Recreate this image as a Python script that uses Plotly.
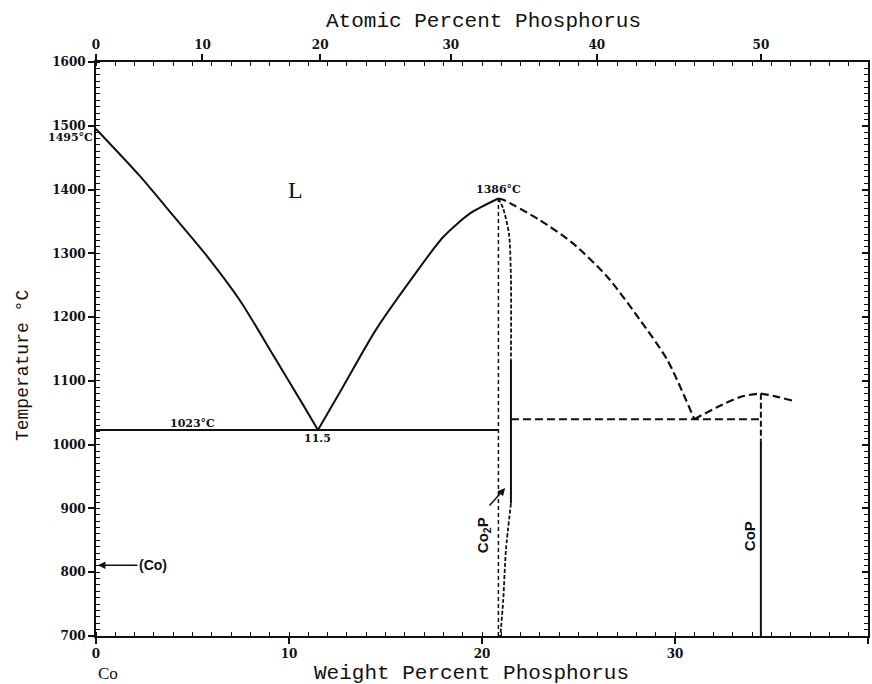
import plotly.graph_objects as go

# ---------------- data ----------------
liq_co_wt = [0, 2.28, 4.0, 5.74, 7.46, 9.19, 10.74, 11.5]
liq_co_T = [1495, 1421, 1359, 1296, 1226, 1140, 1062, 1023]

liq_co2p_wt = [11.5, 12.8, 14.5, 16.3, 18.0, 19.4, 20.85]
liq_co2p_T = [1023, 1091, 1180, 1258, 1326, 1363, 1386]

liq_right_wt = [20.85, 21.1, 23.0, 24.7, 26.5, 28.2, 29.6, 31.0]
liq_right_T = [1386, 1384, 1352, 1316, 1263, 1195, 1133, 1040]

liq_cop_wt = [31.0, 32.2, 33.4, 34.4, 35.3, 36.1]
liq_cop_T = [1040, 1059, 1075, 1080, 1075, 1069]

co2p_left_wt = [20.85, 20.85]
co2p_left_T = [700, 1386]

co2p_right_up_wt = [20.85, 21.1, 21.4, 21.5, 21.5]
co2p_right_up_T = [1386, 1370, 1330, 1260, 1133]
co2p_right_mid_wt = [21.5, 21.5]
co2p_right_mid_T = [1133, 908]
co2p_right_low_wt = [21.5, 21.24, 21.1, 20.95]
co2p_right_low_T = [908, 835, 756, 700]

eut1_wt = [0, 20.85]
eut1_T = [1023, 1023]
eut2_wt = [21.5, 34.45]
eut2_T = [1040, 1040]

cop_dash_wt = [34.45, 34.45]
cop_dash_T = [1080, 1007]
cop_solid_wt = [34.45, 34.45]
cop_solid_T = [1007, 700]

co_allotrope_T = 811

at_pct_ticks = [0, 10, 20, 30, 40, 50]
wt_ticks = [0, 10, 20, 30, 40]
T_ticks = [700, 800, 900, 1000, 1100, 1200, 1300, 1400, 1500, 1600]

M_P, M_CO = 30.974, 58.933
at_pos = [a * M_P / (a * M_P + (100 - a) * M_CO) * 100 for a in at_pct_ticks]

BLACK = "#111111"
TICKFONT = dict(family="DejaVu Serif", size=12, color=BLACK, weight="bold")
TITLEFONT = dict(family="Liberation Mono", size=21, color=BLACK)

fig = go.Figure()


def add(x, y, dash="solid", width=2.0, shape="linear"):
    fig.add_trace(go.Scatter(x=x, y=y, mode="lines", showlegend=False,
                             hoverinfo="skip",
                             line=dict(color=BLACK, width=width, dash=dash,
                                       shape=shape, smoothing=0.7)))


add(liq_co_wt, liq_co_T, shape="spline")
add(liq_co2p_wt, liq_co2p_T, shape="spline")
add(liq_right_wt, liq_right_T, dash="8px,4px", width=2.2, shape="spline")
add(liq_cop_wt, liq_cop_T, dash="8px,4px", width=2.2, shape="spline")
add(co2p_left_wt, co2p_left_T, dash="4px,3px", width=1.5)
add(co2p_right_up_wt, co2p_right_up_T, dash="4px,2px", width=1.8, shape="spline")
add(co2p_right_mid_wt, co2p_right_mid_T, width=2.0)
add(co2p_right_low_wt, co2p_right_low_T, dash="4px,2px", width=1.8, shape="spline")
add(eut1_wt, eut1_T, width=2.0)
add(eut2_wt, eut2_T, dash="8px,4px", width=2.0)
add(cop_dash_wt, cop_dash_T, dash="6px,3px", width=2.0)
add(cop_solid_wt, cop_solid_T, width=2.0)

# invisible traces for the top and right axes
fig.add_trace(go.Scatter(x=[0, 40], y=[700, 700], xaxis="x2", mode="lines",
                         line=dict(width=0), showlegend=False, hoverinfo="skip"))
fig.add_trace(go.Scatter(x=[0, 40], y=[700, 700], yaxis="y2", mode="lines",
                         line=dict(width=0), showlegend=False, hoverinfo="skip"))

small = dict(family="DejaVu Serif", size=11, color=BLACK, weight="bold")
ann = [
    dict(x=0, y=1481, text="1495°C", showarrow=False, xanchor="right",
         xshift=-1, font=small),
    dict(x=20.85, y=1386, text="1386°C", showarrow=False, yanchor="bottom",
         yshift=0, font=small),
    dict(x=5.0, y=1023, text="1023°C", showarrow=False, yanchor="bottom",
         yshift=-2, font=small),
    dict(x=11.5, y=1023, text="11.5", showarrow=False, yanchor="top",
         yshift=0, font=small),
    dict(x=10.36, y=1400, text="L", showarrow=False,
         font=dict(family="Liberation Serif", size=24, color=BLACK)),
    dict(x=0.1, y=co_allotrope_T, text="(Co)", showarrow=True, arrowhead=2,
         arrowsize=1, arrowwidth=1.5, arrowcolor=BLACK, ax=55, ay=0,
         font=dict(family="Liberation Sans", size=14, color=BLACK, weight="bold")),
    dict(x=21.2, y=932, text="", showarrow=True, arrowhead=2, arrowsize=1,
         arrowwidth=1.5, arrowcolor=BLACK, ax=-17, ay=19),
    dict(x=20.05, y=858, text="Co<sub>2</sub>P", showarrow=False, textangle=-90,
         font=dict(family="Liberation Sans", size=15, color=BLACK, weight="bold")),
    dict(x=33.9, y=857, text="CoP", showarrow=False, textangle=-90,
         font=dict(family="Liberation Sans", size=15, color=BLACK, weight="bold")),
    # axis titles and the Co end label, placed in paper coordinates
    dict(xref="paper", yref="paper", x=0.502, y=1.0714, xanchor="center",
         yanchor="middle", text="Atomic Percent Phosphorus",
         showarrow=False, font=TITLEFONT),
    dict(xref="paper", yref="paper", x=0.487, y=-0.066, xanchor="center",
         yanchor="middle", text="Weight Percent Phosphorus",
         showarrow=False, font=TITLEFONT),
    dict(xref="paper", yref="paper", x=-0.0946, y=0.472, xanchor="center",
         yanchor="middle", text="Temperature °C",
         showarrow=False, textangle=-90,
         font=dict(family="Liberation Mono", size=18, color=BLACK)),
    dict(xref="paper", yref="paper", x=0.0155, y=-0.066, xanchor="center",
         yanchor="middle", text="Co",
         showarrow=False, font=dict(family="Liberation Serif", size=17, color=BLACK)),
]

common_axis = dict(showline=True, linewidth=2, linecolor=BLACK, showgrid=False,
                   zeroline=False, automargin=False, tickcolor=BLACK,
                   tickwidth=1.5, ticklen=6)

fig.update_layout(
    width=872, height=684,
    margin=dict(l=96, r=4, t=62, b=48),
    paper_bgcolor="white", plot_bgcolor="white",
    annotations=ann,
    xaxis=dict(range=[0, 40], tickmode="array", tickvals=wt_ticks,
               ticks="outside", tickfont=TICKFONT,
               minor=dict(tickmode="linear", tick0=0, dtick=1, ticks="inside",
                          ticklen=4, tickwidth=1.2, tickcolor=BLACK, showgrid=False),
               **common_axis),
    xaxis2=dict(range=[0, 40], overlaying="x", side="top", tickmode="array",
                tickvals=at_pos, ticktext=[str(a) for a in at_pct_ticks],
                ticks="outside", tickfont=TICKFONT,
                minor=dict(tickmode="linear", tick0=0, dtick=1, ticks="inside",
                           ticklen=4, tickwidth=1.2, tickcolor=BLACK, showgrid=False),
                **common_axis),
    yaxis=dict(range=[700, 1600], tickmode="array", tickvals=T_ticks,
               ticks="outside", tickfont=TICKFONT,
               minor=dict(tickmode="linear", tick0=700, dtick=10, ticks="inside",
                          ticklen=4, tickwidth=1.2, tickcolor=BLACK, showgrid=False),
               **common_axis),
    yaxis2=dict(range=[700, 1600], overlaying="y", side="right",
                showticklabels=False, tickmode="array", tickvals=T_ticks,
                ticks="inside",
                minor=dict(tickmode="linear", tick0=700, dtick=10, ticks="inside",
                           ticklen=4, tickwidth=1.2, tickcolor=BLACK, showgrid=False),
                **common_axis),
)

# remove the default page margin so the figure fills the window exactly
fig.write_html("out.html",
               config={"displayModeBar": False},
               post_script="document.body.style.margin='0';"
                           "document.body.style.overflow='hidden';")
